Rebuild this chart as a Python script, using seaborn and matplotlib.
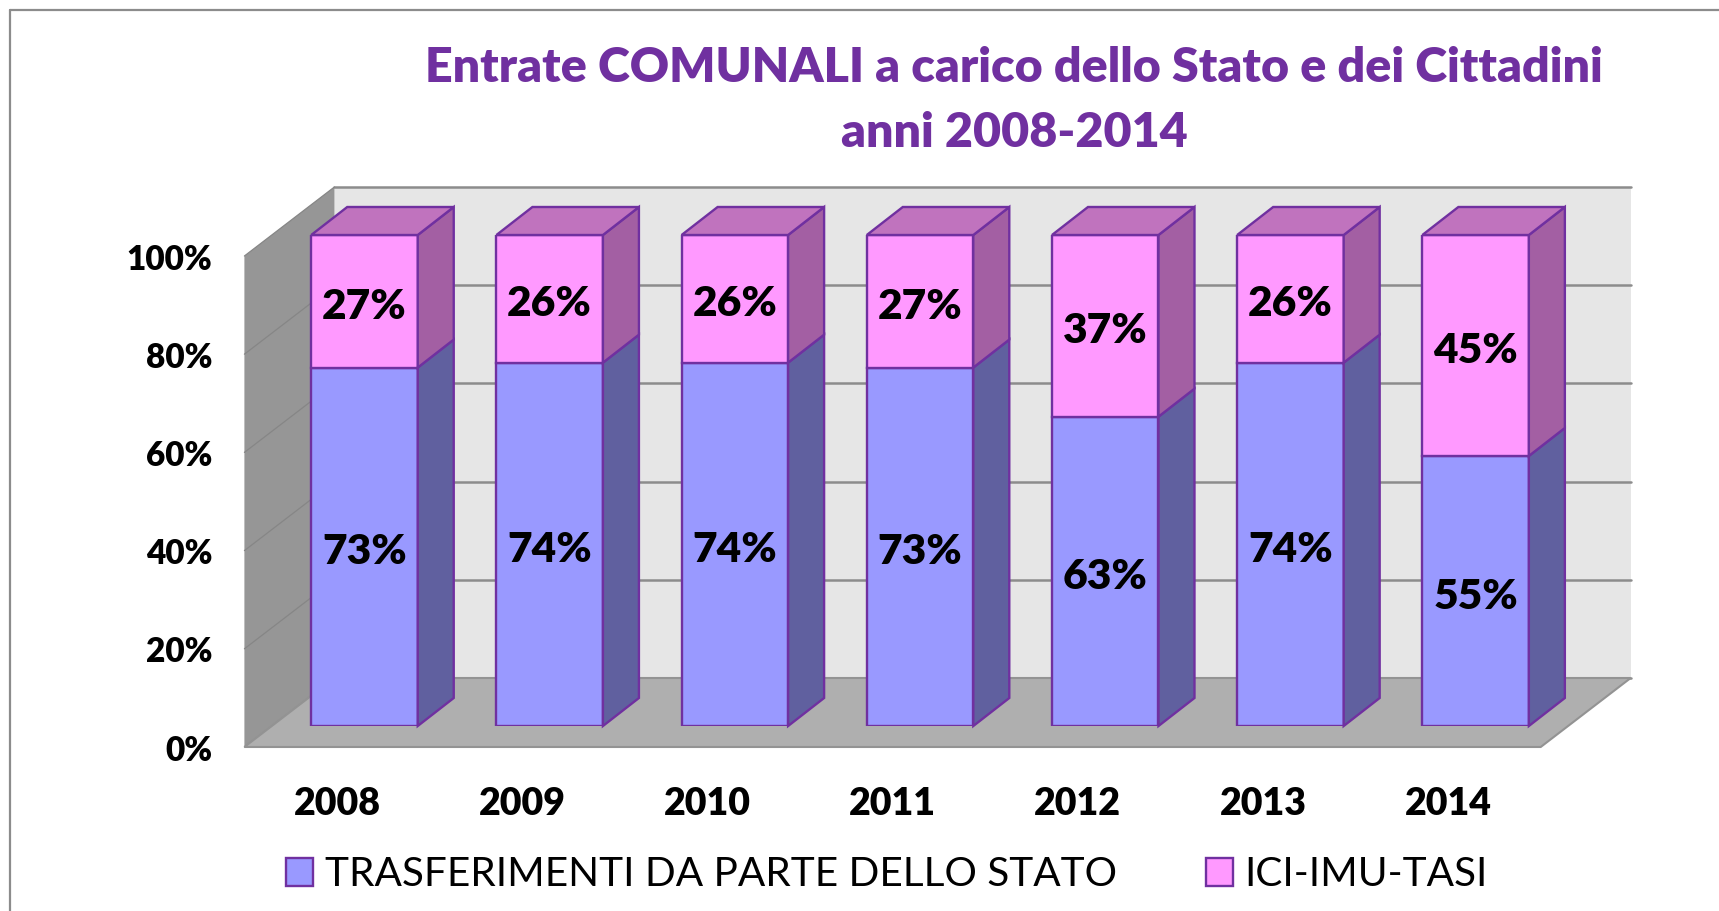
import matplotlib
matplotlib.use("Agg")
import matplotlib.pyplot as plt
import seaborn as sns
from matplotlib.lines import Line2D
from matplotlib.patches import Polygon
from matplotlib.transforms import ScaledTranslation

anni = ["2008", "2009", "2010", "2011", "2012", "2013", "2014"]
trasferimenti = [73, 74, 74, 73, 63, 74, 55]
ici_imu_tasi = [27, 26, 26, 27, 37, 26, 45]
y_ticks = [0, 20, 40, 60, 80, 100]
y_labels = ["0%", "20%", "40%", "60%", "80%", "100%"]
nome_trasf = "TRASFERIMENTI DA PARTE DELLO STATO"
nome_ici = "ICI-IMU-TASI"

VIOLA = "#7030A0"
W, H = 1719, 911

sns.set_theme(style="white")
plt.rcParams["font.family"] = ["Lato", "DejaVu Sans"]

fig = plt.figure(figsize=(W / 100, H / 100), dpi=100, facecolor="white")

# cornice del grafico: solo sopra e a sinistra, il resto e' tagliato
fig.add_artist(Line2D([10 / W, 10 / W], [0, 1 - 10 / H], color="#8c8c8c", lw=1.6))
fig.add_artist(Line2D([10 / W, 1], [1 - 10 / H, 1 - 10 / H], color="#8c8c8c", lw=1.6))

# asse anteriore (piano delle etichette) e asse delle barre spostato nello spazio
x0, y0, larg, alt = 244.4, 747, 1296.3, 491
ax = fig.add_axes([x0 / W, 1 - y0 / H, larg / W, alt / H])
ax_bar = fig.add_axes([(x0 + 27.5) / W, 1 - (y0 - 21) / H, larg / W, alt / H])
ax_bar.patch.set_alpha(0)

px_x = larg / 7
px_y = alt / 100
prof_x = 90 / px_x    # profondita' della scatola
prof_y = 69 / px_y
bar_x = 36 / px_x     # profondita' delle barre
bar_y = 28 / px_y

# pareti e pavimento
xl, xr = -0.5, 6.5
ax.add_patch(Polygon([(xl + prof_x, prof_y), (xr + prof_x, prof_y), (xr + prof_x, 100 + prof_y), (xl + prof_x, 100 + prof_y)],
                     fc="#e6e6e6", ec="none", clip_on=False, zorder=1))
ax.add_patch(Polygon([(xl, 0), (xl + prof_x, prof_y), (xl + prof_x, 100 + prof_y), (xl, 100)],
                     fc="#969696", ec="none", clip_on=False, zorder=1))
ax.add_patch(Polygon([(xl, 0), (xr, 0), (xr + prof_x, prof_y), (xl + prof_x, prof_y)],
                     fc="#afafaf", ec="#939393", lw=1.5, clip_on=False, zorder=2))
for t in y_ticks:
    ax.plot([xl + prof_x, xr + prof_x], [t + prof_y, t + prof_y], color="#8c8c8c", lw=1.8, clip_on=False, zorder=1.5)
    ax.plot([xl, xl + prof_x], [t, t + prof_y], color="#868686", lw=0.9, clip_on=False, zorder=1.5)

sns.barplot(x=anni, y=trasferimenti, color="#9999ff", saturation=1, width=106.5 / px_x,
            edgecolor=VIOLA, linewidth=1.7, ax=ax_bar, label=nome_trasf, legend=False)
sns.barplot(x=anni, y=ici_imu_tasi, bottom=trasferimenti, color="#ff99ff", saturation=1, width=106.5 / px_x,
            edgecolor=VIOLA, linewidth=1.7, ax=ax_bar, label=nome_ici, legend=False)
if ax_bar.get_legend() is not None:
    ax_bar.get_legend().remove()

# facce laterali e superiori delle barre
for cont, col_lato in zip(ax_bar.containers, ["#60609f", "#a35fa3"]):
    for r in cont:
        xa = r.get_x() + r.get_width()
        yb = r.get_y()
        yt = yb + r.get_height()
        ax_bar.add_patch(Polygon([(xa, yb), (xa + bar_x, yb + bar_y), (xa + bar_x, yt + bar_y), (xa, yt)],
                                 fc=col_lato, ec=VIOLA, lw=1.7, clip_on=False, zorder=3))
for r in ax_bar.containers[1]:
    xa = r.get_x()
    xb = xa + r.get_width()
    yt = r.get_y() + r.get_height()
    ax_bar.add_patch(Polygon([(xa, yt), (xb, yt), (xb + bar_x, yt + bar_y), (xa + bar_x, yt + bar_y)],
                             fc="#c073be", ec=VIOLA, lw=1.7, clip_on=False, zorder=3))

for cont, vals in zip(ax_bar.containers, [trasferimenti, ici_imu_tasi]):
    ax_bar.bar_label(cont, labels=[f"{v}%" for v in vals], label_type="center", padding=-4,
                     fontsize=30.5, fontweight="heavy", color="black", zorder=5)

for a in (ax, ax_bar):
    a.set_xlim(xl, xr)
    a.set_ylim(0, 100)
    for s in a.spines.values():
        s.set_visible(False)
ax_bar.axis("off")

ax.set_xticks(range(len(anni)))
ax.set_xticklabels(anni, fontsize=27, fontweight="heavy", color="black")
ax.set_yticks(y_ticks)
ax.set_yticklabels(y_labels, fontsize=24, fontweight="heavy", color="black")
ax.tick_params(axis="x", length=0, pad=28.5)
ax.tick_params(axis="y", length=0, pad=23)
ax.patch.set_alpha(0)
for lbl in ax.get_yticklabels():
    lbl.set_transform(lbl.get_transform() + ScaledTranslation(0, -0.5 / 72, fig.dpi_scale_trans))

fig.text(1014 / W, 1 - 68 / H, "Entrate COMUNALI a carico dello Stato e dei Cittadini", ha="center", va="center",
         fontsize=34.8, fontweight="heavy", color=VIOLA)
fig.text(1014 / W, 1 - 133 / H, "anni 2008-2014", ha="center", va="center",
         fontsize=34.8, fontweight="heavy", color=VIOLA)

handles = [ax_bar.containers[0][0], ax_bar.containers[1][0]]
fig.legend(handles, [nome_trasf, nome_ici], ncol=2, frameon=False, fontsize=29.2,
           loc="center left", bbox_to_anchor=(286 / W, 1 - 875 / H), borderpad=0, borderaxespad=0,
           handlelength=0.67, handleheight=0.67, handletextpad=0.28, columnspacing=2.2, labelcolor="black")

plt.savefig("out.png", dpi=100)
plt.close()
